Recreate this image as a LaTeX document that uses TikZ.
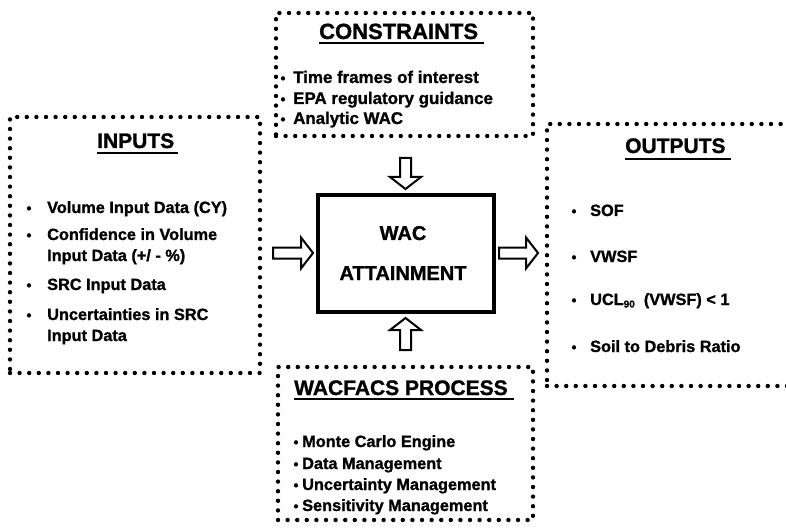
\documentclass[tikz,border=0pt]{standalone}
\usepackage{fontspec}
\setmainfont{Liberation Sans}[BoldFeatures={FakeBold=1.2}]
\usetikzlibrary{calc}
\tikzset{
  dotbox/.style={draw, line width=4.4pt, dash pattern=on 0pt off 9.6pt, line cap=round, inner sep=0, fill=none},
  mainbox/.style={draw, line width=4pt, inner sep=0},
  ttl/.style={font=\fontsize{21}{21}\selectfont\bfseries, inner sep=0, anchor=base west},
  itm/.style={font=\fontsize{16.3}{21}\selectfont\bfseries, inner sep=0, anchor=base west},
  itmc/.style={font=\fontsize{16.9}{21}\selectfont\bfseries, inner sep=0, anchor=base west},
  bul/.style={font=\fontsize{14}{14}\selectfont\bfseries, inner sep=0, anchor=base},
  wac/.style={font=\fontsize{20}{20}\selectfont\bfseries, inner sep=0, anchor=base},
  uline/.style={line width=2pt},
  barrow/.style={draw, line width=2pt, fill=white, line join=miter}
}
% tail x, tail y, rotation, length
\newcommand\myblockarrow[4]{%
  \draw[barrow, shift={(#1,#2)}, rotate=#3]
    (0,-5.5) -- ({#4-12},-5.5) -- ({#4-12},-15.5) -- (#4,0) -- ({#4-12},15.5) -- ({#4-12},5.5) -- (0,5.5) -- cycle;}
\begin{document}
\begin{tikzpicture}[x=1pt,y=-1pt]
\clip (0,0) rectangle (786,529);
\fill[white] (0,0) rectangle (786,529);

% boxes
\node[dotbox, minimum width=250pt, minimum height=256pt] (inputs) at (135,245) {};
\node[dotbox, minimum width=257pt, minimum height=123pt] (constr) at (404.5,74.5) {};
\node[dotbox, minimum width=245pt, minimum height=262pt] (outputs) at (669.5,255) {};
\node[dotbox, minimum width=255pt, minimum height=153pt] (process) at (405.5,443.5) {};
\node[mainbox, minimum width=176pt, minimum height=117pt] (wacbox) at (406,253.5) {};

% WAC text
\node[wac] (wac1) at (403,240) {WAC};
\node[wac] (wac2) at (403,280) {ATTAINMENT};

% INPUTS
\node[ttl] (tin) at (97,148) {INPUTS};
\draw[uline] ([yshift=-5pt]tin.base west) -- ([xshift=4pt,yshift=-5pt]tin.base east);
\node[bul] (bi1) at (29,213) {•};
\node[itm] (i1) at (47,213) {Volume Input Data (CY)};
\node[bul] (bi2) at (29,240) {•};
\node[itm] (i2a) at (47,240) {Confidence in Volume};
\node[itm] (i2b) at (47,261) {Input Data (+/ - \%)};
\node[bul] (bi3) at (29,290) {•};
\node[itm] (i3) at (47,290) {SRC Input Data};
\node[bul] (bi4) at (29,320) {•};
\node[itm] (i4a) at (47,320) {Uncertainties in SRC};
\node[itm] (i4b) at (47,341) {Input Data};

% CONSTRAINTS
\node[ttl, font=\fontsize{22}{22}\selectfont\bfseries] (tcon) at (319,39) {CONSTRAINTS};
\draw[uline] ([yshift=-4pt]tcon.base west) -- ([xshift=6pt,yshift=-4pt]tcon.base east);
\node[bul] (bc1) at (283,83) {•};
\node[itmc] (c1) at (293,83) {Time frames of interest};
\node[bul] (bc2) at (283,104) {•};
\node[itmc] (c2) at (293,104) {EPA regulatory guidance};
\node[bul] (bc3) at (283,124) {•};
\node[itmc] (c3) at (293,124) {Analytic WAC};

% OUTPUTS
\node[ttl] (tout) at (625,153) {OUTPUTS};
\draw[uline] ([yshift=-6pt]tout.base west) -- ([xshift=5pt,yshift=-6pt]tout.base east);
\node[bul] (bo1) at (574,216) {•};
\node[itm] (o1) at (590,216) {SOF};
\node[bul] (bo2) at (574,262) {•};
\node[itm] (o2) at (590,262) {VWSF};
\node[bul] (bo3) at (574,305) {•};
\node[itm] (o3) at (590,305) {UCL\raisebox{-2.5pt}{\fontsize{10}{10}\selectfont 90}\ \ (VWSF) < 1};
\node[bul] (bo4) at (574,352) {•};
\node[itm] (o4) at (590,352) {Soil to Debris Ratio};

% WACFACS PROCESS
\node[ttl] (tpro) at (294,395) {WACFACS PROCESS};
\draw[uline] ([yshift=-4pt]tpro.base west) -- ([xshift=6pt,yshift=-4pt]tpro.base east);
\node[bul] (bp1) at (296,447) {•};
\node[itm] (p1) at (302,447) {Monte Carlo Engine};
\node[bul] (bp2) at (296,469) {•};
\node[itm] (p2) at (302,469) {Data Management};
\node[bul] (bp3) at (296,490) {•};
\node[itm] (p3) at (302,490) {Uncertainty Management};
\node[bul] (bp4) at (296,511) {•};
\node[itm] (p4) at (302,511) {Sensitivity Management};

% block arrows
\myblockarrow{273}{253}{0}{40}
\myblockarrow{499}{253}{0}{39}
\myblockarrow{405.5}{158}{-90}{31}
\myblockarrow{405.5}{350}{90}{32}
\end{tikzpicture}
\end{document}
